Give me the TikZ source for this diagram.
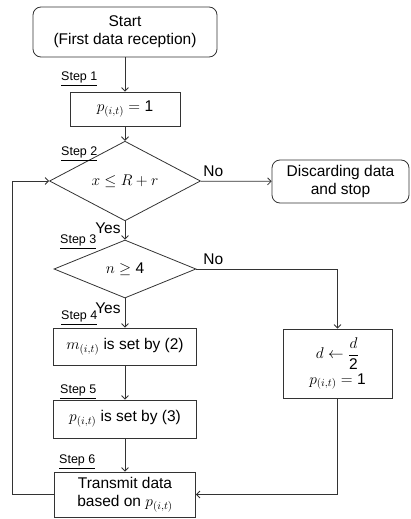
\RequirePackage{fix-cm}
\documentclass[tikz,border=0pt]{standalone}
\usepackage{amsmath}
\usepackage{fontspec}
\setmainfont{Liberation Sans}
\usetikzlibrary{shapes.geometric,arrows.meta}
\begin{document}
\begin{tikzpicture}[x=1pt,y=-1pt,
  every node/.style={font=\fontsize{15.5}{18}\selectfont, align=center},
  line/.style={draw=black!80, line width=0.8pt},
  arr/.style={line, -{Straight Barb[length=3.5pt,width=7pt]}},
  proc/.style={line, rectangle, inner sep=0pt},
  term/.style={proc, rounded corners=8pt},
  dec/.style={line, diamond, inner sep=0pt},
  steplbl/.style={anchor=west, inner sep=0pt, font=\fontsize{12.5}{14}\selectfont},
  ans/.style={inner sep=0pt, font=\fontsize{15.5}{18}\selectfont}]
\useasboundingbox (0,0) rectangle (410,519);

% blocks
\node[term, minimum width=184pt, minimum height=50pt] (start) at (125,32)
  {Start\\(First data reception)};
\node[proc, minimum width=110pt, minimum height=34pt] (s1) at (125,109)
  {$p_{(i,t)} =$ 1};
\node[dec, minimum width=151pt, minimum height=59pt] (d1) at (125,181)
  {$x \le R + r$};
\node[term, minimum width=137pt, minimum height=43pt] (stop) at (340.5,181.5)
  {Discarding data\\and stop};
\node[dec, minimum width=142pt, minimum height=58pt] (d2) at (125,269)
  {$n \ge$ 4};
\node[proc, minimum width=143pt, minimum height=37pt] (s4) at (125,346.5)
  {$m_{(i,t)}$ is set by (2)};
\node[proc, minimum width=109pt, minimum height=69pt] (half) at (337.5,363.5)
  {$d \leftarrow \dfrac{d}{\text{2}}$\\[3pt]$p_{(i,t)} =$ 1};
\node[proc, minimum width=143pt, minimum height=38pt] (s5) at (125,419)
  {$p_{(i,t)}$ is set by (3)};
\node[proc, minimum width=141pt, minimum height=45pt] (s6) at (125,494.5)
  {Transmit data\\based on $p_{(i,t)}$};

% step labels
\node[steplbl] (l1) at (61,79)  {\underline{Step 1}};
\node[steplbl] (l2) at (61,154) {\underline{Step 2}};
\node[steplbl] (l3) at (60,242) {\underline{Step 3}};
\node[steplbl] (l4) at (61,318) {\underline{Step 4}};
\node[steplbl] (l5) at (60,392) {\underline{Step 5}};
\node[steplbl] (l6) at (59,462) {\underline{Step 6}};

% connectors
\draw[arr] (start) -- (s1);
\draw[arr] (s1) -- (d1);
\draw[arr] (d1) -- node[ans, pos=0.18, above=4pt] {No} (stop);
\draw[arr] (d1) -- node[ans, pos=0.39, left=4pt] {Yes} (d2);
\draw[arr] (d2.east) -| node[ans, pos=0.06, above=4pt] {No} (half.north);
\draw[arr] (d2) -- node[ans, pos=0.33, left=4pt] {Yes} (s4);
\draw[arr] (s4) -- (s5);
\draw[arr] (s5) -- (s6);
\draw[arr] (half.south) |- (s6.east);
\coordinate (loop) at (12,494.5);
\draw[arr] (s6.west) -- (loop) |- (d1.west);
\end{tikzpicture}
\end{document}
